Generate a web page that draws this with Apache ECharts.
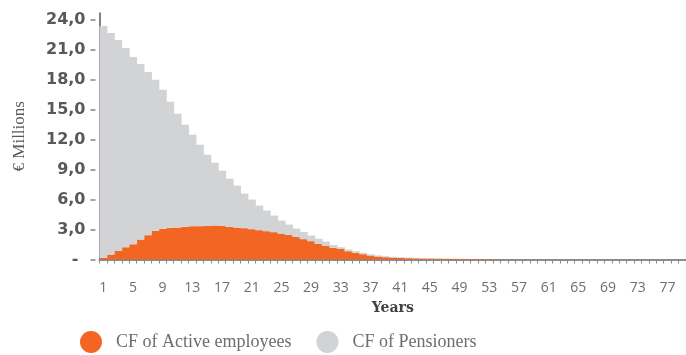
<!DOCTYPE html>
<html>
<head>
<meta charset="utf-8">
<script src="https://cdn.jsdelivr.net/npm/echarts@6/dist/echarts.min.js"></script>
<style>
  html, body { margin: 0; padding: 0; background: #ffffff; }
  #chart { width: 686px; height: 355px; }
</style>
</head>
<body>
<div id="chart"></div>
<script>
// Projection years 1..79
const years = Array.from({ length: 79 }, (_, i) => String(i + 1));

// Cash flow of active employees, € millions
const activeEmployees = [
  0.16, 0.50, 0.86, 1.23, 1.53, 2.00, 2.44, 2.87, 3.07, 3.17,
  3.20, 3.27, 3.34, 3.34, 3.37, 3.41, 3.37, 3.27, 3.20, 3.14,
  3.04, 2.94, 2.84, 2.74, 2.60, 2.45, 2.27, 2.04, 1.84, 1.57,
  1.37, 1.18, 1.05, 0.83, 0.67, 0.53, 0.40, 0.30, 0.23, 0.19,
  0.16, 0.13, 0.12, 0.10, 0.09, 0.08, 0.07, 0.06, 0.06, 0.05,
  0.05, 0.04, 0.04, 0.03, 0, 0, 0, 0, 0, 0,
  0, 0, 0, 0, 0, 0, 0, 0, 0, 0,
  0, 0, 0, 0, 0, 0, 0, 0, 0
];

// Cash flow of pensioners, € millions (stacked on top of active employees)
const pensioners = [
  23.24, 22.20, 21.14, 19.97, 18.77, 17.60, 16.36, 15.13, 13.93, 12.63,
  11.40, 10.23, 9.16, 8.16, 7.13, 6.29, 5.53, 4.83, 4.20, 3.46,
  2.96, 2.46, 2.06, 1.66, 1.30, 1.05, 0.83, 0.71, 0.56, 0.50,
  0.43, 0.27, 0.18, 0.17, 0.16, 0.14, 0.12, 0.10, 0.10, 0.08,
  0.06, 0.07, 0.05, 0.04, 0.03, 0.02, 0.02, 0.02, 0.01, 0.01,
  0, 0, 0, 0, 0, 0, 0, 0, 0, 0,
  0, 0, 0, 0, 0, 0, 0, 0, 0, 0,
  0, 0, 0, 0, 0, 0, 0, 0, 0
];

// Value-axis tick values
const yTicks = [0, 3, 6, 9, 12, 15, 18, 21, 24];

const ORANGE = '#f26522';
const GREY = '#d1d3d4';
const TEXT = '#6d6e71';
const Y_MAX = 24.7;

const chart = echarts.init(document.getElementById('chart'), null, { renderer: 'canvas' });

chart.setOption({
  animation: false,
  backgroundColor: '#ffffff',
  grid: { left: 99.5, right: 0, top: 13, bottom: 95.5, containLabel: false },
  legend: {
    left: 75,
    top: 326,
    itemWidth: 22,
    itemHeight: 22,
    itemGap: 25,
    icon: 'circle',
    textStyle: {
      fontFamily: '"Liberation Serif", serif',
      fontSize: 18,
      color: TEXT,
      padding: [0, 0, 0, 9]
    },
    data: ['CF of Active employees', 'CF of Pensioners']
  },
  xAxis: [
    {
      // ticks, labels and axis name, set slightly below the axis line
      type: 'category',
      data: years,
      position: 'bottom',
      offset: 3,
      boundaryGap: true,
      axisLine: { show: false },
      axisTick: { show: true, interval: 0, length: 4, lineStyle: { color: '#8a8a8a', width: 1 } },
      axisLabel: {
        interval: 3,
        margin: 19,
        fontFamily: '"Open Sans", sans-serif',
        fontSize: 14,
        color: TEXT
      },
      name: 'Years',
      nameLocation: 'middle',
      nameGap: 39,
      nameTextStyle: {
        fontFamily: '"DejaVu Serif", serif',
        fontWeight: 'bold',
        fontSize: 14,
        color: '#414042'
      }
    },
    {
      // baseline
      type: 'category',
      data: years,
      position: 'bottom',
      axisLine: { show: true, lineStyle: { color: '#8c8c8c', width: 2 } },
      axisTick: { show: false },
      axisLabel: { show: false }
    }
  ],
  yAxis: [
    {
      // ticks, labels and axis name, set slightly left of the axis line
      type: 'value',
      min: 0,
      max: Y_MAX,
      position: 'left',
      offset: 4,
      splitLine: { show: false },
      axisLine: { show: false },
      axisTick: {
        show: true,
        length: 5,
        customValues: yTicks,
        lineStyle: { color: '#808285', width: 1.5 }
      },
      axisLabel: {
        margin: 10,
        customValues: yTicks,
        fontFamily: '"DejaVu Sans", sans-serif',
        fontWeight: 'bold',
        fontSize: 16,
        color: '#58595b',
        formatter: v => (v === 0 ? '{z|-}' : v.toFixed(1).replace('.', ',')),
        rich: {
          z: {
            fontFamily: '"DejaVu Sans", sans-serif',
            fontWeight: 'bold',
            fontSize: 16,
            color: '#58595b',
            padding: [0, 7, 0, 0]
          }
        }
      },
      name: '€ Millions',
      nameLocation: 'middle',
      nameRotate: 90,
      nameGap: 67,
      nameTextStyle: {
        fontFamily: '"Liberation Serif", serif',
        fontSize: 17,
        color: '#58595b'
      }
    },
    {
      // vertical axis line
      type: 'value',
      min: 0,
      max: Y_MAX,
      position: 'left',
      splitLine: { show: false },
      axisLine: { show: true, lineStyle: { color: '#58595b', width: 1.5 } },
      axisTick: { show: false },
      axisLabel: { show: false }
    }
  ],
  series: [
    {
      name: 'CF of Active employees',
      type: 'bar',
      stack: 'cf',
      barWidth: '112%',
      itemStyle: { color: ORANGE },
      data: activeEmployees
    },
    {
      name: 'CF of Pensioners',
      type: 'bar',
      stack: 'cf',
      barWidth: '112%',
      itemStyle: { color: GREY },
      data: pensioners
    }
  ]
});
</script>
</body>
</html>
